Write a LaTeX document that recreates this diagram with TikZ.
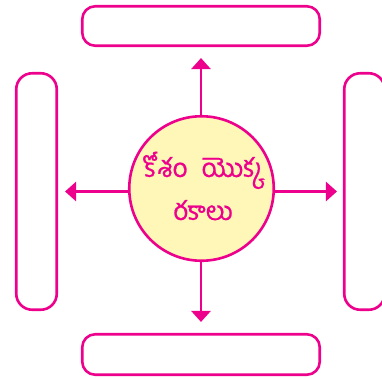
\documentclass[tikz,border=0pt]{standalone}
\usepackage{fontspec}
\newfontfamily\telfont[Script=Telugu, FakeBold=0.8]{Hind Guntur}
\usetikzlibrary{arrows.meta}
\definecolor{pk}{RGB}{236,0,140}
\definecolor{yl}{RGB}{255,247,184}
\tikzset{
  box/.style={draw=pk, line width=2.6pt, fill=white},
  arr/.style={draw=pk, line width=2.6pt, -{Triangle[width=19pt,length=11pt]}},
}
\begin{document}
\begin{tikzpicture}[x=1pt,y=-1pt]
\useasboundingbox (0,0) rectangle (382,378);
\node[box, rounded corners=13pt, minimum width=237.5pt, minimum height=39.5pt] (top) at (201,26) {};
\node[box, rounded corners=13pt, minimum width=237.5pt, minimum height=40.5pt] (bot) at (201,354.5) {};
\node[box, rounded corners=16pt, minimum width=40.5pt, minimum height=236.5pt] (left) at (36.5,191.5) {};
\node[box, rounded corners=16pt, minimum width=40.5pt, minimum height=236.5pt] (right) at (364.5,191.5) {};
\node[draw=pk, line width=2.6pt, fill=yl, circle, minimum size=144.5pt, inner sep=0pt] (c) at (201.5,188.5) {};
\node[text=pk, font=\telfont\fontsize{26}{43}\selectfont, align=center] (t) at (203,186) {కోశం\hspace{14pt}యొక్క\\రకాలు};
\draw[arr, shorten >=11pt] (c.north -| top) -- (top.south);
\draw[arr, shorten >=11pt] (c.south -| bot) -- (bot.north);
\draw[arr, shorten >=7pt] (c.west |- left) -- (left.east);
\draw[arr, shorten >=6pt] (c.east |- right) -- (right.west);
\end{tikzpicture}
\end{document}
